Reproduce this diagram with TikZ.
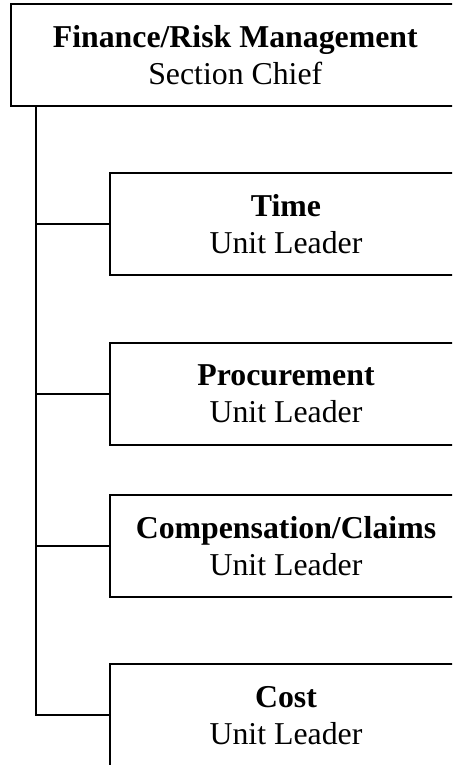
\documentclass[tikz,border=0pt]{standalone}
\usepackage{fontspec}
\setmainfont{Liberation Serif}
\begin{document}
\begin{tikzpicture}[x=0.5pt,y=-0.5pt,
  box/.style={draw,line width=1pt,rectangle,align=center,inner sep=0pt,
    minimum height=51pt,font=\fontsize{15.9}{18.5}\selectfont},
  unitbox/.style={box,minimum width=176pt},
  link/.style={line width=0.9pt}]
\clip (0,0) rectangle (452,765);
\node[box,minimum width=224.75pt] (chief) at (235.25,55) {\textbf{Finance/Risk Management}\\Section Chief};
\node[unitbox] (time) at (286,224.3) {\textbf{Time}\\Unit Leader};
\node[unitbox] (proc) at (286,393.7) {\textbf{Procurement}\\Unit Leader};
\node[unitbox] (comp) at (286,546) {\textbf{Compensation/Claims}\\Unit Leader};
\node[unitbox] (cost) at (286,715.3) {\textbf{Cost}\\Unit Leader};
\coordinate (tx) at (35.7,0);
\draw[link] (tx |- chief.south) |- (cost.west);
\draw[link] (tx |- time.west) -- (time.west);
\draw[link] (tx |- proc.west) -- (proc.west);
\draw[link] (tx |- comp.west) -- (comp.west);
\end{tikzpicture}
\end{document}
